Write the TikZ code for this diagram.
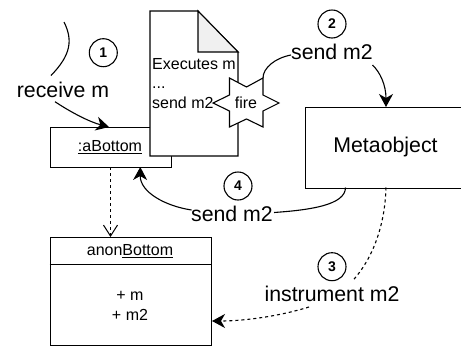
\documentclass[tikz,border=0pt]{standalone}
\usepackage{fontspec}
\setmainfont{Liberation Sans}
\usetikzlibrary{arrows.meta}
\tikzset{
  x=1pt,y=-1pt,
  box/.style={draw,line width=1.1pt,fill=white,inner sep=0pt,anchor=north west},
  txt/.style={inner sep=0pt,font=\fontsize{16}{19.2}\selectfont},
  big/.style={inner sep=0pt,font=\fontsize{21.3}{25}\selectfont},
  num/.style={draw,circle,line width=1.1pt,minimum size=28pt,inner sep=0pt,font=\fontsize{14}{16}\selectfont\bfseries},
  conn/.style={line width=1.1pt},
  solidtip/.style={-{Stealth[length=13pt,width=14pt,inset=4pt]}},
  opentip/.style={-{Straight Barb[length=11pt,width=14pt,line width=1pt]}},
}
\begin{document}
\begin{tikzpicture}
\useasboundingbox (0,0) rectangle (461,346);
% object box
\node[box,minimum width=121pt,minimum height=40pt] (abot) at (49.5,127) {};
\node[txt] (abotT) at (110,147) {\underline{:aBottom}};
% class box
\node[box,minimum width=161.5pt,minimum height=107.7pt] (anon) at (49.5,237) {};
\draw[line width=1pt] (49.5,264.5) -- (211,264.5);
\node[txt] (anonT) at (130,251) {anon\underline{Bottom}};
\node[txt,align=center] (anonB) at (130,305.5) {+ m\\[1pt]+ m2};
% document
\draw[line width=1.1pt,fill=white] (150,11) -- (198,11) -- (238,52) -- (238,156) -- (150,156) -- cycle;
\draw[line width=1.1pt,fill=black!6] (198,11) -- (238,52) -- (198,52) -- cycle;
\node[txt,anchor=north west,align=left] (doc) at (152,58.5) {Executes m\\...\\send m2};
% star
\draw[line width=1.1pt,fill=white,line join=miter] (213,103) -- (229.5,95) -- (229.5,78) -- (246.5,87) -- (263,78) -- (263,95) -- (279,103) -- (263,111) -- (263,127) -- (246.5,119) -- (229.5,127) -- (229.5,111) -- cycle;
\node[txt] (fire) at (246,103) {fire};
\coordinate (firetip) at (263,78);
% metaobject (runs off the right edge of the picture)
\node[box,minimum width=162pt,minimum height=80.5pt] (meta) at (305,107) {};
\node[big] (metaT) at (385.5,147) {Metaobject};
% labels
\node[big] (recv) at (63,90) {receive m};
\node[big] (send2) at (332,52) {send m2};
\node[big] (send4) at (232,214) {send m2};
\node[big] (instr) at (332,294) {instrument m2};
% number circles
\node[num] (n1) at (103.3,52.7) {1};
\node[num] (n2) at (332,24) {2};
\node[num] (n3) at (332,266.7) {3};
\node[num] (n4) at (238,186) {4};
% connectors
\coordinate (start) at (64,22);
\coordinate (recvTop) at (51,75.5);
\coordinate (recvBot) at (55,101.7);
\coordinate (abotTop) at (109,127);
\coordinate (abotBot) at (110.5,167);
\coordinate (abotBotR) at (140.3,167);
\coordinate (anonTop) at (110.5,237);
\coordinate (anonRight) at (212,321);
\coordinate (metaTop) at (386,107);
\coordinate (metaBotL) at (345.5,187.5);
\coordinate (metaBotR) at (386,187.5);
\coordinate (s2L) at (291,55);
\coordinate (s2R) at (372.5,65);
\coordinate (s4L) at (191.5,210);
\coordinate (s4R) at (274,212.5);
\coordinate (inT) at (353.3,280);
\coordinate (inB) at (309,307);
\draw[conn] (start) .. controls (73,40) and (71,55) .. (recvTop);
\draw[conn,solidtip] (recvBot) .. controls (72,113) and (90,122) .. (abotTop);
\draw[line width=1pt,dashed,opentip] (abotBot) -- (anonTop);
\draw[conn] (firetip) .. controls (263,68) and (275,58) .. (s2L);
\draw[conn,solidtip] (s2R) .. controls (380,72) and (386,85) .. (metaTop);
\draw[conn] (metaBotL) .. controls (345.5,205) and (310,210) .. (s4R);
\draw[conn,solidtip] (s4L) .. controls (165,206) and (140,192) .. (abotBotR);
\draw[conn,dashed] (metaBotR) .. controls (385,225) and (373,258) .. (inT);
\draw[conn,dashed,solidtip] (inB) .. controls (280,316) and (245,321) .. (anonRight);
\end{tikzpicture}
\end{document}
